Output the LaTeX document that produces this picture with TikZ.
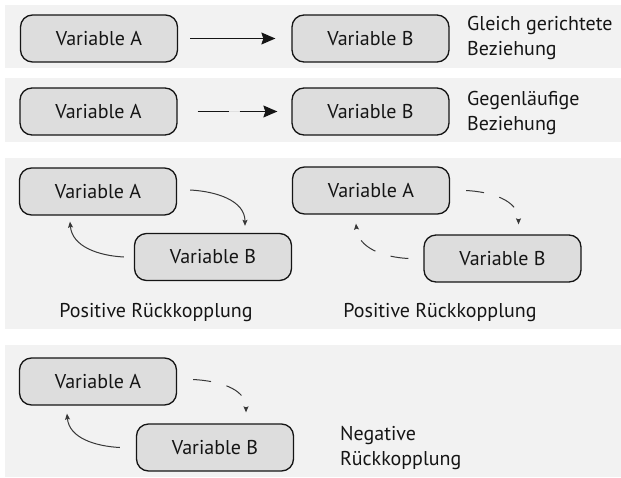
\documentclass[tikz,border=0pt]{standalone}
\usepackage{fontspec}
\setmainfont{PT Sans}
\usetikzlibrary{arrows.meta}
\definecolor{panelgray}{HTML}{F2F2F2}
\definecolor{boxgray}{HTML}{DDDDDD}
\definecolor{ink}{HTML}{151515}
\begin{document}
\begin{tikzpicture}[x=1pt,y=1pt,
  panel/.style={fill=panelgray,draw=none},
  varbox/.style={draw=ink,fill=boxgray,line width=1.3pt,rounded corners=12pt,
    minimum width=157pt,minimum height=47pt,inner sep=0pt,
    font=\fontsize{20}{22}\selectfont,text=ink},
  label/.style={font=\fontsize{20}{25}\selectfont,text=ink,align=left,inner sep=0pt},
  bigarrow/.style={draw=ink,line width=1.1pt,-{Stealth[length=14pt,width=12pt,inset=2pt]}},
  loop/.style={draw=ink!85,line width=1pt,-{Stealth[length=6pt,width=5pt,inset=1pt]}},
  loopdash/.style={loop,dash pattern=on 18pt off 16pt}
]
\useasboundingbox (0,0) rectangle (621,-477);
\fill[white] (0,0) rectangle (621,-477);

% panels
\path[panel] (5,-5) rectangle (621,-68);
\path[panel] (5,-78) rectangle (621,-142);
\path[panel] (5,-158) rectangle (621,-329);
\path[panel] (5,-345) rectangle (621,-477);

% row 1: same-direction relation
\node[varbox] (a1) at (99,-38.5) {Variable A};
\node[varbox] (b1) at (370.5,-38.5) {Variable B};
\draw[bigarrow] ([xshift=12pt]a1.east) -- ([xshift=-16pt]b1.west);
\node[label,anchor=west] (t1) at (467,-37.5) {Gleich gerichtete\\Beziehung};

% row 2: opposite relation
\node[varbox] (a2) at (98.5,-111.5) {Variable A};
\node[varbox] (b2) at (370.5,-111.5) {Variable B};
\draw[bigarrow,dash pattern=on 31pt off 11pt,preaction={draw=black!12,line width=1pt,solid,-}]
  ([xshift=20pt]a2.east) -- ([xshift=-14pt]b2.west);
\node[label,anchor=west] (t2) at (467,-112.5) {Gegenläufige\\Beziehung};

% row 3 left: positive feedback, both solid
\node[varbox] (a3) at (98,-191.5) {Variable A};
\node[varbox] (b3) at (213,-257) {Variable B};
\draw[loop] ([xshift=13pt,yshift=1.5pt]a3.east) to[out=-3,in=90] ([xshift=32pt,yshift=7pt]b3.north);
\draw[loop] ([xshift=-10pt]b3.west) to[out=177,in=-85] ([xshift=-28pt,yshift=-6pt]a3.south);
\node[label,anchor=center] (t3) at (156,-313) {Positive Rückkopplung};

% row 3 right: positive feedback, both dashed
\node[varbox] (a4) at (371,-190.5) {Variable A};
\node[varbox] (b4) at (502.5,-258.5) {Variable B};
\draw[loopdash] ([xshift=16pt]a4.east) to[out=-3,in=90] ([xshift=16pt,yshift=10pt]b4.north);
\draw[loopdash] ([xshift=-15pt]b4.west) to[out=177,in=-85] ([xshift=-15pt,yshift=-9pt]a4.south);
\node[label,anchor=center] (t4) at (440,-313) {Positive Rückkopplung};

% row 4: negative feedback, one dashed link
\node[varbox] (a5) at (98,-381.5) {Variable A};
\node[varbox] (b5) at (215,-447.5) {Variable B};
\draw[loopdash] ([xshift=16pt,yshift=2pt]a5.east) to[out=-3,in=90] ([xshift=31pt,yshift=11pt]b5.north);
\draw[loop] ([xshift=-16pt]b5.west) to[out=177,in=-85] ([xshift=-31pt,yshift=-8pt]a5.south);
\node[label,anchor=west] (t5) at (340,-448.5) {Negative\\Rückkopplung};
\end{tikzpicture}
\end{document}
